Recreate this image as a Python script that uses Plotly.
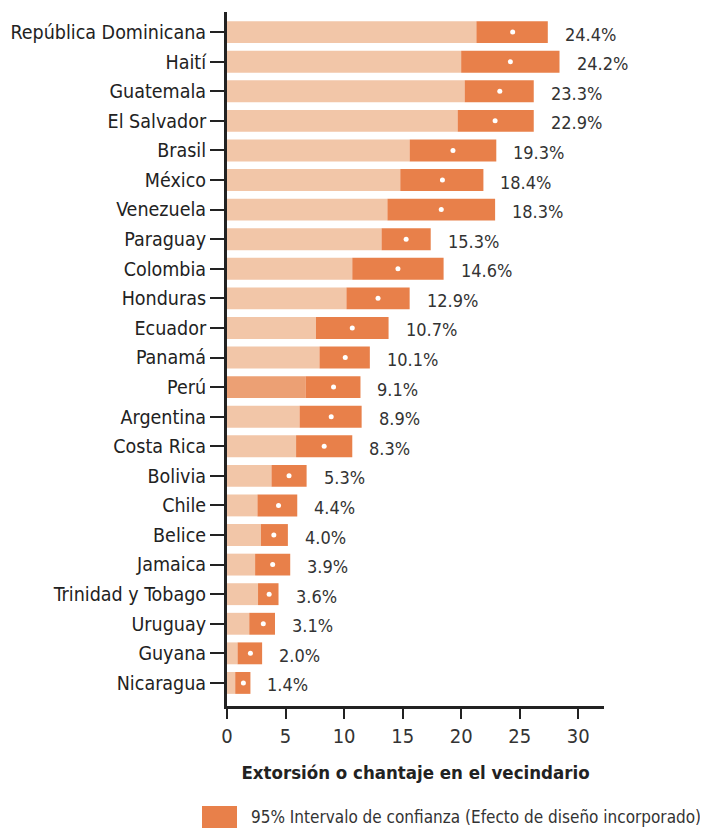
import plotly.graph_objects as go

countries = ["República Dominicana", "Haití", "Guatemala", "El Salvador", "Brasil", "México",
             "Venezuela", "Paraguay", "Colombia", "Honduras", "Ecuador", "Panamá", "Perú",
             "Argentina", "Costa Rica", "Bolivia", "Chile", "Belice", "Jamaica",
             "Trinidad y Tobago", "Uruguay", "Guyana", "Nicaragua"]
estimate = [24.4, 24.2, 23.3, 22.9, 19.3, 18.4, 18.3, 15.3, 14.6, 12.9, 10.7, 10.1, 9.1,
            8.9, 8.3, 5.3, 4.4, 4.0, 3.9, 3.6, 3.1, 2.0, 1.4]
lower = [21.3, 20.0, 20.3, 19.7, 15.6, 14.8, 13.7, 13.2, 10.7, 10.2, 7.6, 7.9, 6.7,
         6.2, 5.9, 3.8, 2.6, 2.9, 2.4, 2.65, 1.9, 0.9, 0.7]
upper = [27.4, 28.4, 26.2, 26.2, 23.0, 21.9, 22.9, 17.4, 18.5, 15.6, 13.8, 12.2, 11.4,
         11.5, 10.7, 6.8, 6.0, 5.2, 5.4, 4.4, 4.1, 3.0, 2.0]
labels = [f"{v:.1f}%" for v in estimate]
highlight = "Perú"

LIGHT = "#F2C6A8"
HILITE = "#ECA074"
DARK = "#E8804A"
FONT = "DejaVu Sans Condensed, Liberation Sans Narrow, sans-serif"

ypos = list(range(len(countries)))
base_colors = [HILITE if c == highlight else LIGHT for c in countries]
ci_width = [u - l for u, l in zip(upper, lower)]

fig = go.Figure()
fig.add_trace(go.Bar(y=ypos, x=lower, orientation="h", marker=dict(color=base_colors, line_width=0),
                     width=0.74, showlegend=False, hoverinfo="skip"))
fig.add_trace(go.Bar(y=ypos, x=ci_width, base=lower, orientation="h",
                     marker=dict(color=DARK, line_width=0), width=0.74,
                     name="95% Intervalo de confianza (Efecto de diseño incorporado)", showlegend=False))
fig.add_trace(go.Scatter(y=ypos, x=estimate, mode="markers",
                         marker=dict(color="white", size=5, line_width=0), showlegend=False))

for y, u, t in zip(ypos, upper, labels):
    fig.add_annotation(x=u, y=y, text=t, showarrow=False, xanchor="left", yanchor="middle",
                       xshift=15, yshift=-2, font=dict(size=18, color="#333333", family=FONT))

# legend (manual swatch + text); plot area spans 377 x 694 px
fig.add_shape(type="rect", xref="paper", yref="paper",
              x0=(202 - 227) / 377, x1=(237 - 227) / 377,
              y0=-(828 - 706) / 694, y1=-(806 - 706) / 694,
              fillcolor=DARK, line_width=0)
fig.add_annotation(xref="paper", yref="paper", x=(249 - 227) / 377, y=-(817 - 706) / 694,
                   text="95% Intervalo de confianza (Efecto de diseño incorporado)",
                   showarrow=False, xanchor="left", yanchor="middle",
                   font=dict(size=17, color="#333333", family=FONT))

# page body has an 8px margin, so the figure is 700x820 to fill the 708x828 window
fig.update_layout(
    width=700, height=820,
    margin=dict(l=219, r=104, t=4, b=122),
    plot_bgcolor="white", paper_bgcolor="white",
    barmode="overlay",
    font=dict(family=FONT, color="#333333"),
    xaxis=dict(range=[0, 32.2], tickvals=[0, 5, 10, 15, 20, 25, 30], showgrid=False, zeroline=False,
               automargin=False,
               showline=True, linewidth=3, linecolor="#222222", ticks="outside", ticklen=10,
               tickwidth=2, tickcolor="#222222", tickfont=dict(size=20, color="#333333"),
               title=dict(text="<b>Extorsión o chantaje en el vecindario</b>",
                          font=dict(size=18.5, color="#222222"), standoff=20)),
    yaxis=dict(range=[22.78, -0.68], tickvals=ypos, ticktext=countries, showgrid=False,
               automargin=False,
               zeroline=False, showline=True, linewidth=3, linecolor="#222222", ticks="outside",
               ticklen=14, tickwidth=1.5, tickcolor="#222222", ticklabelstandoff=0,
               tickfont=dict(size=19.5, color="#222222")),
)

fig.write_html("out.html")
